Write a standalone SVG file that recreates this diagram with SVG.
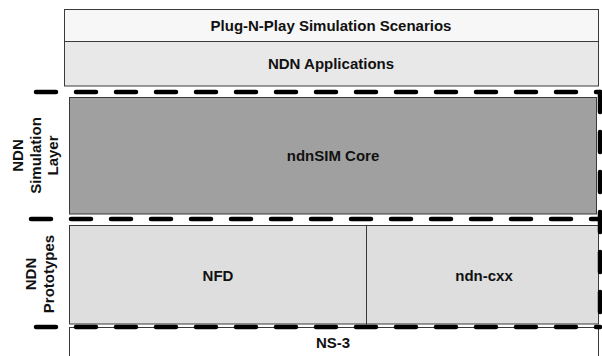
<svg xmlns="http://www.w3.org/2000/svg" width="602" height="356" viewBox="0 0 602 356">
<style>
.box{stroke:#3a3a3a;stroke-width:1}
.t{font-family:"Liberation Sans",Arial,sans-serif;font-weight:bold;font-size:15px;fill:#111;text-anchor:middle}
.dash{fill:none;stroke:#000;stroke-width:4.5;stroke-linecap:round;stroke-dasharray:20 20}
</style>
<rect width="602" height="356" fill="#fff"/>
<g id="scenarios"><rect class="box" x="64.5" y="9.5" width="534" height="32" fill="#f7f7f7"/><text class="t" x="331" y="30.5">Plug-N-Play Simulation Scenarios</text></g>
<g id="applications"><rect class="box" x="64.5" y="41.5" width="534" height="44.5" fill="#e8e8e8"/><text class="t" x="331" y="69">NDN Applications</text></g>
<g id="core"><rect class="box" x="69.5" y="97.5" width="527" height="116.5" fill="#a0a0a0"/><text class="t" x="333" y="161">ndnSIM Core</text></g>
<g id="nfd"><rect class="box" x="69.5" y="225.5" width="297" height="98.5" fill="#dedede"/><text class="t" x="218" y="281">NFD</text></g>
<g id="ndncxx"><rect class="box" x="366.5" y="225.5" width="232" height="98.5" fill="#dedede"/><text class="t" x="484" y="281">ndn-cxx</text></g>
<g id="ns3"><rect class="box" x="69.5" y="327.5" width="529" height="40" fill="#fff"/><text class="t" x="333" y="348">NS-3</text></g>
<g id="label-sim"><text class="t" transform="translate(0,155.5) rotate(-90)"><tspan x="0" y="22.5">NDN</tspan><tspan x="0" y="40.5">Simulation</tspan><tspan x="0" y="58">Layer</tspan></text></g>
<g id="label-proto"><text class="t" transform="translate(0,274) rotate(-90)"><tspan x="0" y="35.5">NDN</tspan><tspan x="0" y="54">Prototypes</tspan></text></g>
<g id="connectors">
<line class="dash" x1="36" y1="92" x2="600" y2="92"/>
<line class="dash" x1="31" y1="219" x2="600" y2="219"/>
<line class="dash" x1="36" y1="327" x2="600" y2="327"/>
<line class="dash" x1="600" y1="92" x2="600" y2="327"/>
</g>
</svg>
